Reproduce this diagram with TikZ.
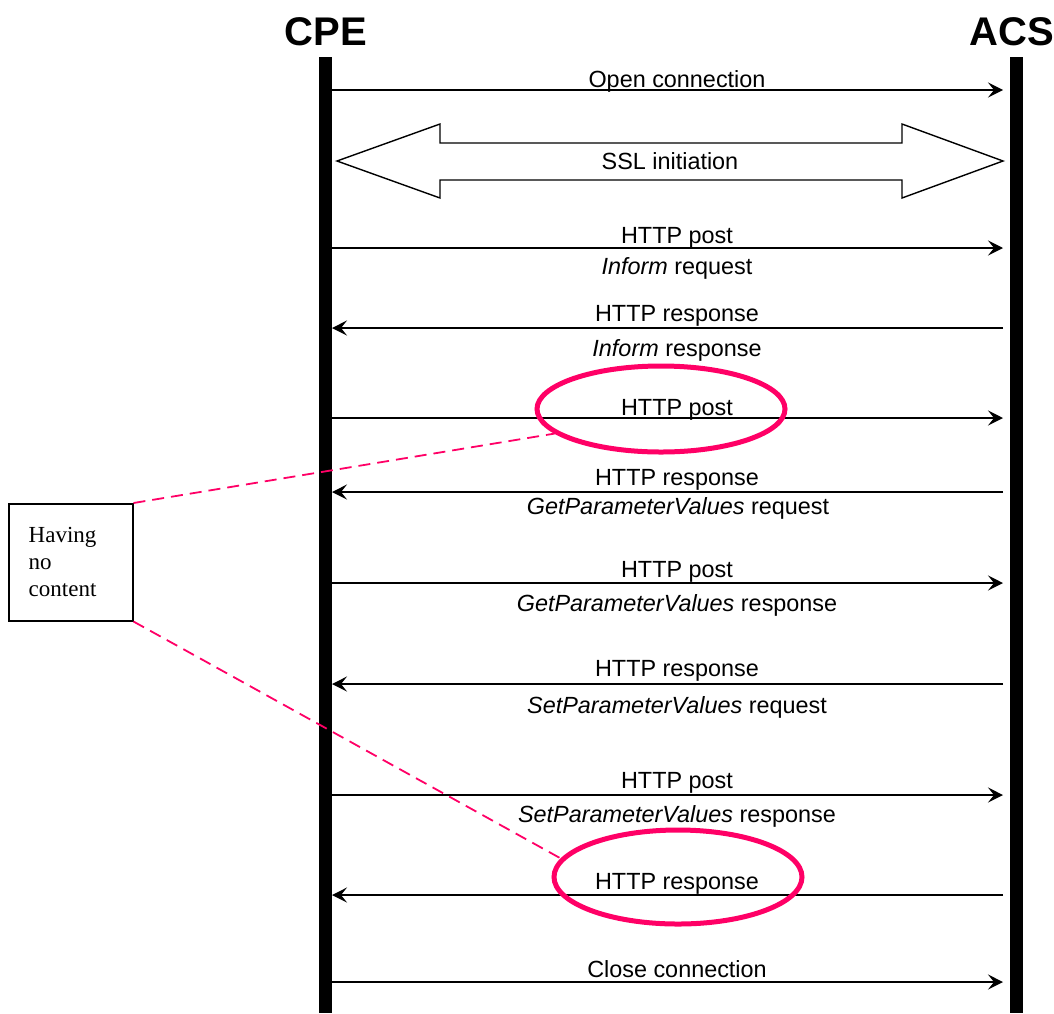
\documentclass[tikz,border=0pt]{standalone}
\usepackage{fontspec}
\setmainfont{Liberation Sans}
\newfontfamily\notefont{Liberation Serif}
\usetikzlibrary{arrows.meta,shapes.geometric}
\definecolor{markpink}{HTML}{FF0066}
\tikzset{
  lifeline/.style={line width=6.5pt},
  msg/.style={line width=0.75pt,-{Stealth[length=7.5pt,width=7.5pt,inset=3pt]}},
  msgtext/.style={font=\fontsize{11.7}{14}\selectfont,inner sep=0pt,anchor=base},
  party/.style={font=\fontsize{20}{24}\selectfont\bfseries,inner sep=0pt,anchor=base},
  ring/.style={draw=markpink,line width=2.5pt,ellipse,inner sep=0pt,minimum width=124pt},
  pointer/.style={draw=markpink,line width=0.9pt,dash pattern=on 6pt off 3.5pt},
  notebox/.style={draw,line width=0.75pt,anchor=north west,align=left,
    font=\notefont\fontsize{11.5}{13.5}\selectfont,text width=42pt,inner xsep=10pt,
    minimum width=62pt,minimum height=58.5pt}
}
\begin{document}
\begin{tikzpicture}[x=0.5pt,y=-0.5pt]
\useasboundingbox (0,0) rectangle (1054,1013);
% parties and lifelines
\node[party] (cpe) at (326,45) {CPE};
\node[party] (acs) at (1012,45) {ACS};
\coordinate (cpe-top) at (325,57);
\coordinate (cpe-bot) at (325,1013);
\coordinate (acs-top) at (1016,57);
\coordinate (acs-bot) at (1016,1013);
\draw[lifeline] (cpe-top) -- (cpe-bot);
\draw[lifeline] (acs-top) -- (acs-bot);
% message ends
\foreach \n/\y in {open/90,post1/248,resp1/328,post2/418,resp2/492,post3/583,resp3/684,post4/795,resp4/895,close/982}{
  \coordinate (c-\n) at (332,\y);
  \coordinate (a-\n) at (1003,\y);
}
\coordinate (c-ssl) at (337,161);
\coordinate (a-ssl) at (1003,161);
% messages
\draw[msg] (c-open) -- (a-open);
\draw[line width=0.7pt] (c-ssl) -- ++(103,-37) -- ++(0,19) -- ++(462,0) -- ++(0,-19) -- (a-ssl)
  -- ++(-101,37) -- ++(0,-18) -- ++(-462,0) -- ++(0,18) -- cycle;
\draw[msg] (c-post1) -- (a-post1);
\draw[msg] (a-resp1) -- (c-resp1);
\draw[msg] (c-post2) -- (a-post2);
\draw[msg] (a-resp2) -- (c-resp2);
\draw[msg] (c-post3) -- (a-post3);
\draw[msg] (a-resp3) -- (c-resp3);
\draw[msg] (c-post4) -- (a-post4);
\draw[msg] (a-resp4) -- (c-resp4);
\draw[msg] (c-close) -- (a-close);
% labels
\node[msgtext] (t-open) at (677,87) {Open connection};
\node[msgtext] (t-ssl) at (670,169) {SSL initiation};
\node[msgtext] (t-post1) at (677,243) {HTTP post};
\node[msgtext] (t-inf1) at (677,274) {\textit{Inform} request};
\node[msgtext] (t-resp1) at (677,321) {HTTP response};
\node[msgtext] (t-inf2) at (677,356) {\textit{Inform} response};
\node[msgtext] (t-post2) at (677,415) {HTTP post};
\node[msgtext] (t-resp2) at (677,485) {HTTP response};
\node[msgtext] (t-get1) at (678,514) {\textit{GetParameterValues} request};
\node[msgtext] (t-post3) at (677,577) {HTTP post};
\node[msgtext] (t-get2) at (677,611) {\textit{GetParameterValues} response};
\node[msgtext] (t-resp3) at (677,676) {HTTP response};
\node[msgtext] (t-set1) at (677,713) {\textit{SetParameterValues} request};
\node[msgtext] (t-post4) at (677,788) {HTTP post};
\node[msgtext] (t-set2) at (677,822) {\textit{SetParameterValues} response};
\node[msgtext] (t-resp4) at (677,889) {HTTP response};
\node[msgtext] (t-close) at (677,977) {Close connection};
% empty messages
\node[ring,minimum height=43pt] (e1) at (661,409) {};
\node[ring,minimum height=47pt] (e2) at (678,877) {};
\node[notebox] (note) at (8,503) {Having\\no\\content};
\draw[pointer] (note.north east) -- (e1.193);
\draw[pointer] (note.south east) -- (e2.171);
\end{tikzpicture}
\end{document}
